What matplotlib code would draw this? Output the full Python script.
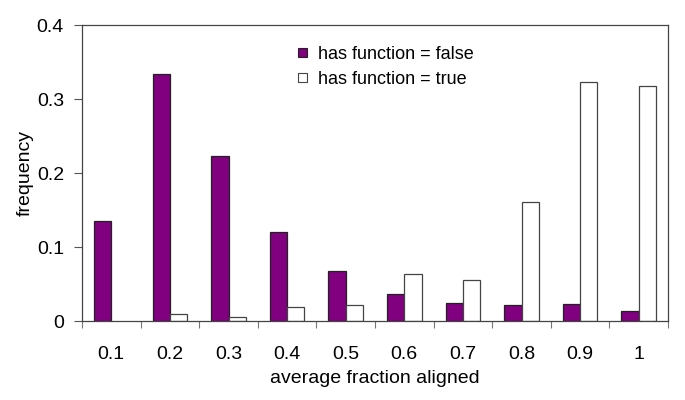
import numpy as np
import matplotlib
matplotlib.use("Agg")
import matplotlib.pyplot as plt
from matplotlib.patches import Patch

plt.rcParams['font.family'] = ['Liberation Sans', 'DejaVu Sans']

# data
categories = ["0.1", "0.2", "0.3", "0.4", "0.5", "0.6", "0.7", "0.8", "0.9", "1"]
has_false = [0.135, 0.334, 0.223, 0.120, 0.068, 0.037, 0.024, 0.022, 0.023, 0.013]
has_true = [0.0, 0.010, 0.006, 0.019, 0.022, 0.064, 0.055, 0.161, 0.323, 0.318]

x = np.arange(len(categories))
w = 0.295
purple = "#800080"

fig = plt.figure(figsize=(6.85, 4.0), dpi=100)
ax = fig.add_axes([82/685, 79/400, 586/685, 296/400])

b1 = ax.bar(x - w/2, has_false, width=w, color=purple, edgecolor="#222222",
            linewidth=0.9)
b2 = ax.bar(x + w/2, has_true, width=w, color="white", edgecolor="#444444",
            linewidth=0.9)
# empty bins get no outline at all
for bars in (b1, b2):
    for r in bars:
        if r.get_height() == 0:
            r.set_visible(False)

ax.set_xlim(-0.5, len(categories) - 0.5)
ax.set_ylim(0, 0.4)
ax.set_yticks([0, 0.1, 0.2, 0.3, 0.4])
ax.set_yticklabels(["0", "0.1", "0.2", "0.3", "0.4"])

# labels at the category centres, tick marks on the boundaries
ax.set_xticks(x)
ax.set_xticklabels(categories)
ax.set_xticks(np.arange(len(categories) + 1) - 0.5, minor=True)
ax.tick_params(axis="x", which="major", length=0, pad=18, labelsize=14)
ax.tick_params(axis="x", which="minor", length=5, width=0.8, color="#777777")
ax.tick_params(axis="y", length=6, width=0.8, color="#555555", pad=7, labelsize=14)

for s in ax.spines.values():
    s.set_color("#444444")
    s.set_linewidth(0.9)

ax.set_xlabel("average fraction aligned", fontsize=14)
ax.xaxis.set_label_coords(0.5, -0.164)
ax.set_ylabel("frequency", fontsize=14)
ax.yaxis.set_label_coords(-0.082, 0.5)

handles = [Patch(facecolor=purple, edgecolor="#222222", linewidth=0.8),
           Patch(facecolor="white", edgecolor="#444444", linewidth=0.8)]
ax.legend(handles, ["has function = false", "has function = true"],
          loc="upper left", bbox_to_anchor=(0.368, 0.93), frameon=False,
          fontsize=13, handlelength=0.5, handleheight=0.4, handletextpad=0.6,
          labelspacing=0.45, borderpad=0, borderaxespad=0)

plt.savefig("out.png", dpi=100)
